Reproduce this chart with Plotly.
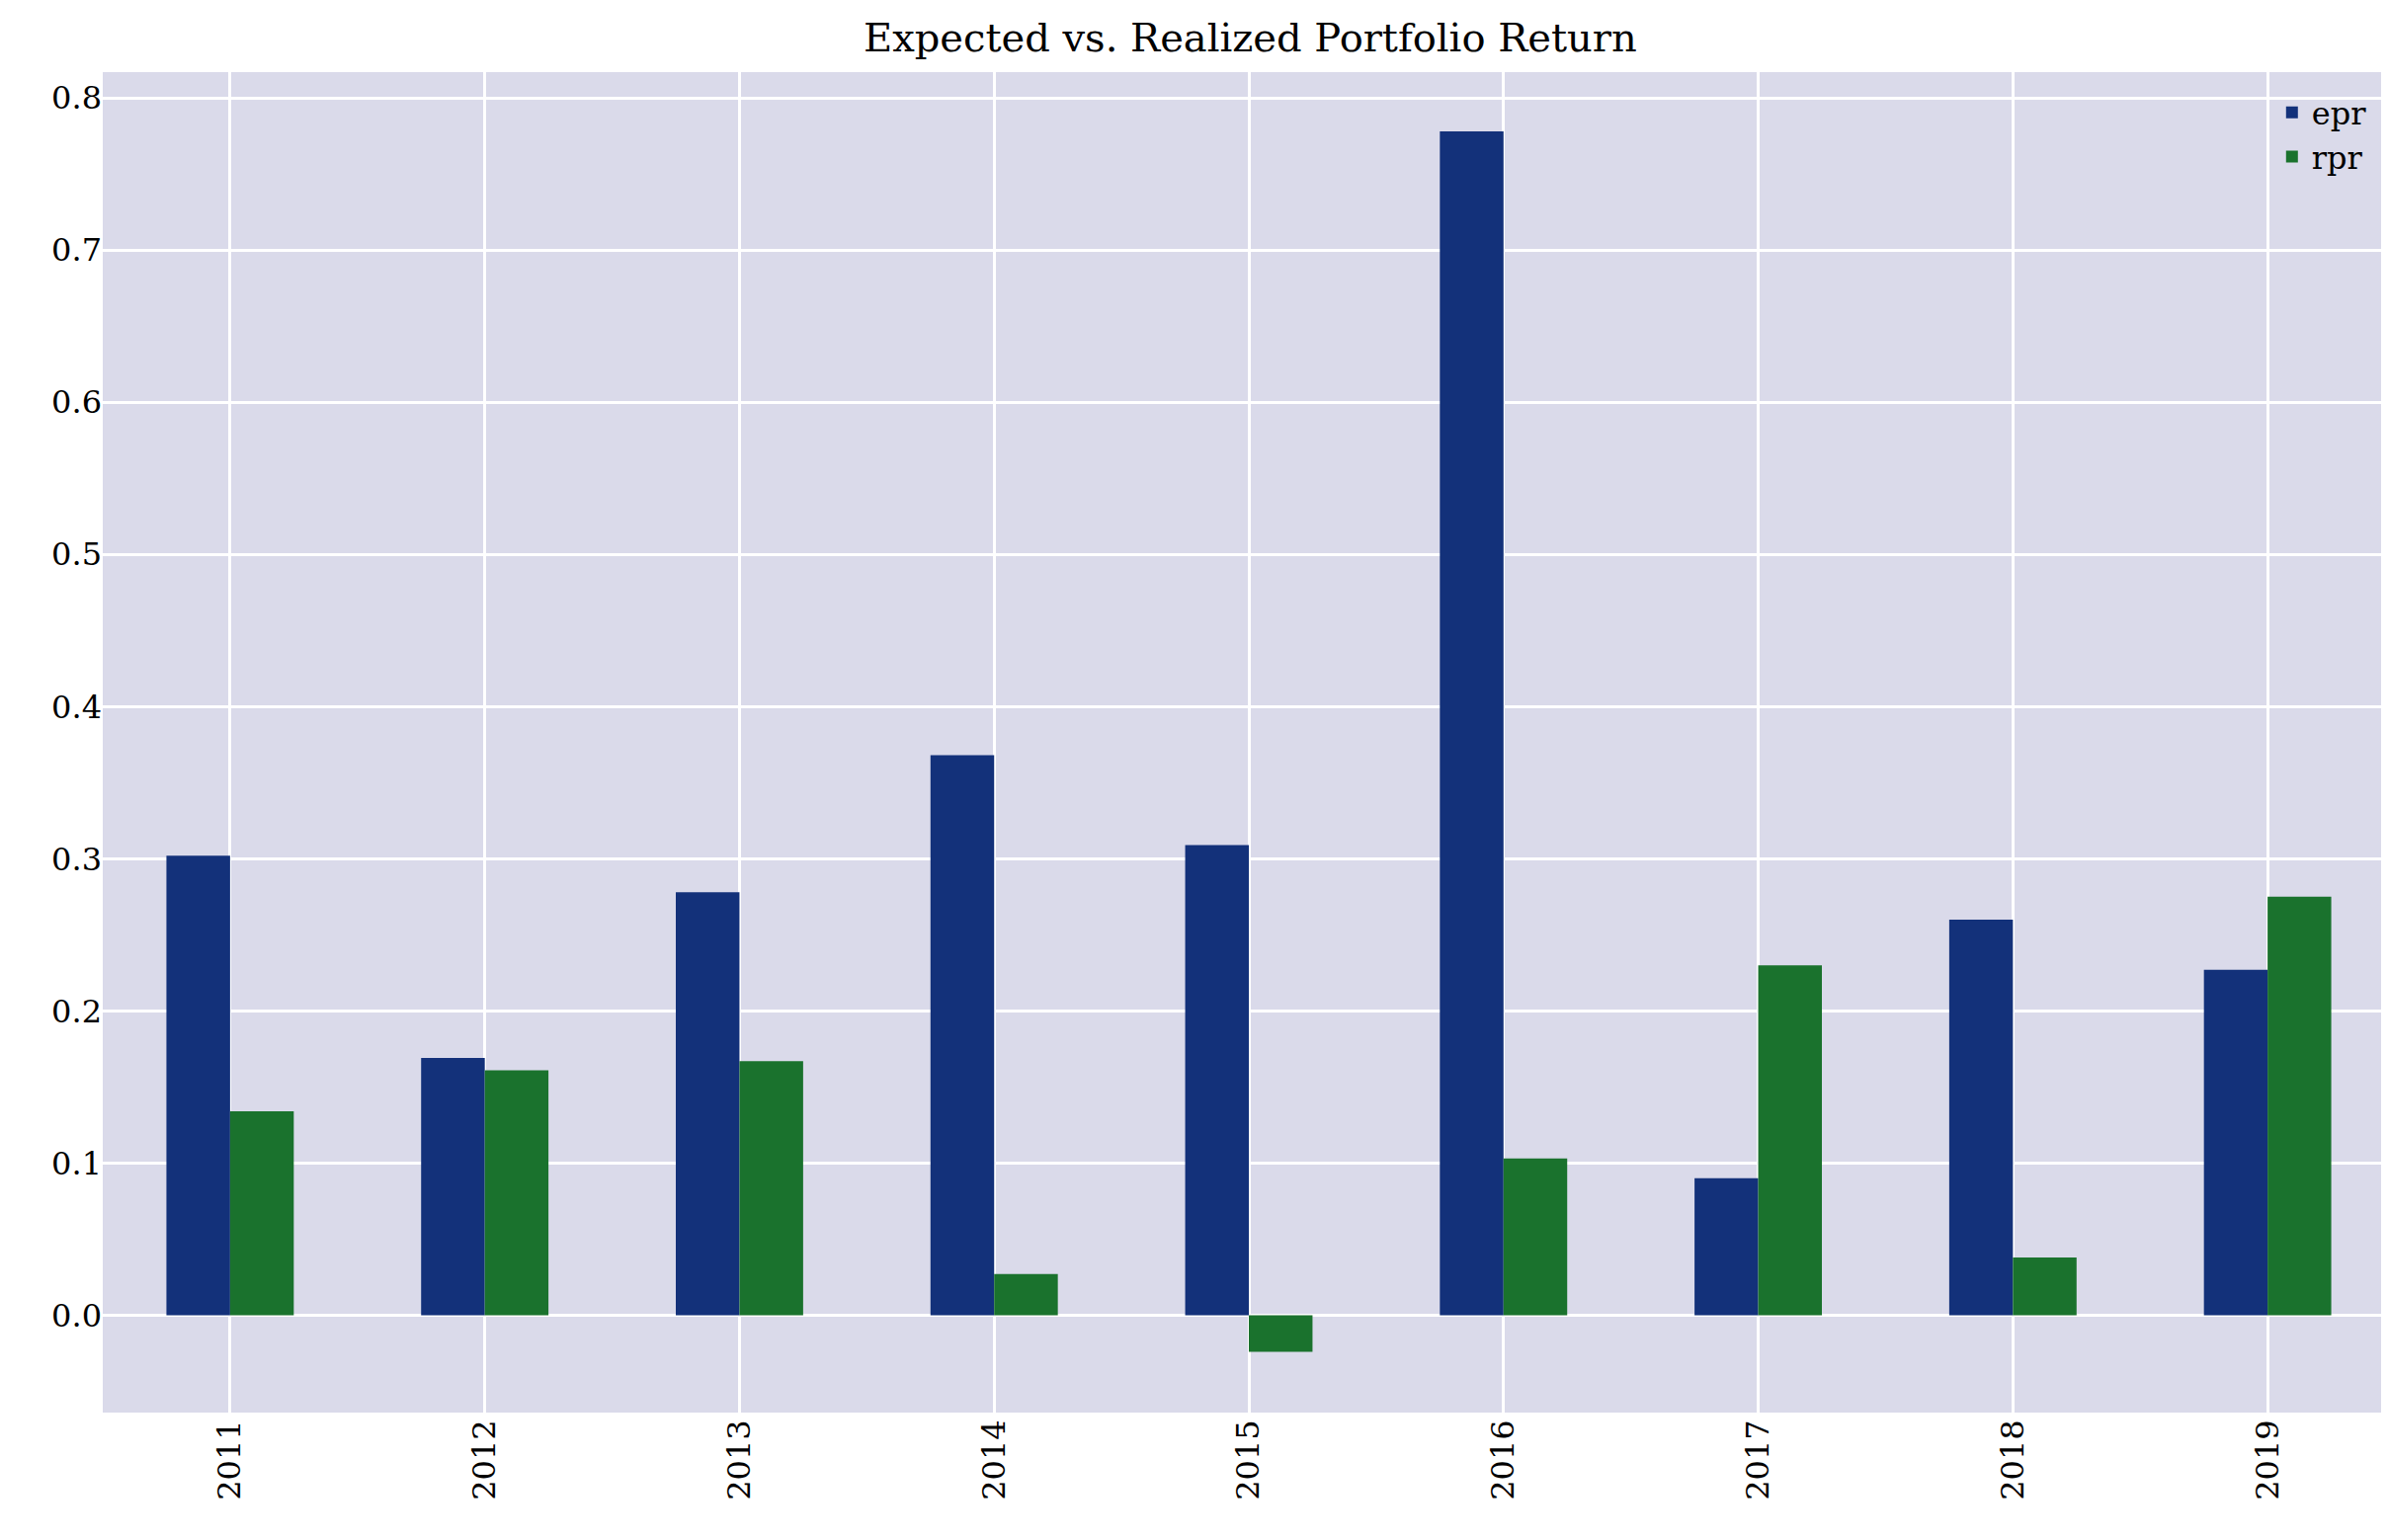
import plotly.graph_objects as go

years = ["2011", "2012", "2013", "2014", "2015", "2016", "2017", "2018", "2019"]
epr = [0.302, 0.169, 0.278, 0.368, 0.309, 0.778, 0.090, 0.260, 0.227]
rpr = [0.134, 0.161, 0.167, 0.027, -0.024, 0.103, 0.230, 0.038, 0.275]

font = "DejaVu Serif"

fig = go.Figure()
fig.add_trace(go.Bar(x=years, y=epr, name="epr", marker_color="#13317a", marker_line_width=0))
fig.add_trace(go.Bar(x=years, y=rpr, name="rpr", marker_color="#1a722d", marker_line_width=0))

fig.update_layout(
    width=2418, height=1559,
    barmode="group", bargap=0.5, bargroupgap=0,
    plot_bgcolor="#dadaea", paper_bgcolor="white",
    font=dict(family=font, size=32, color="black"),
    title=dict(text="Expected vs. Realized Portfolio Return", x=0.52, xanchor="center",
               y=0.99, yanchor="top", font=dict(size=40)),
    margin=dict(l=96, r=2, t=65, b=137),
    legend=dict(x=0.99, y=0.99, xanchor="right", yanchor="top",
                bgcolor="rgba(0,0,0,0)", font=dict(size=32)),
    showlegend=True,
)
fig.update_xaxes(range=[-0.5, 8.5], tickangle=-90, showgrid=True, gridcolor="white",
                 gridwidth=3, ticks="", showline=False)
fig.update_yaxes(range=[-0.064, 0.817], dtick=0.1, tickformat=".1f", showgrid=True,
                 gridcolor="white", gridwidth=3, zeroline=True, zerolinecolor="white",
                 zerolinewidth=3, ticks="")

fig.write_html("out.html")
